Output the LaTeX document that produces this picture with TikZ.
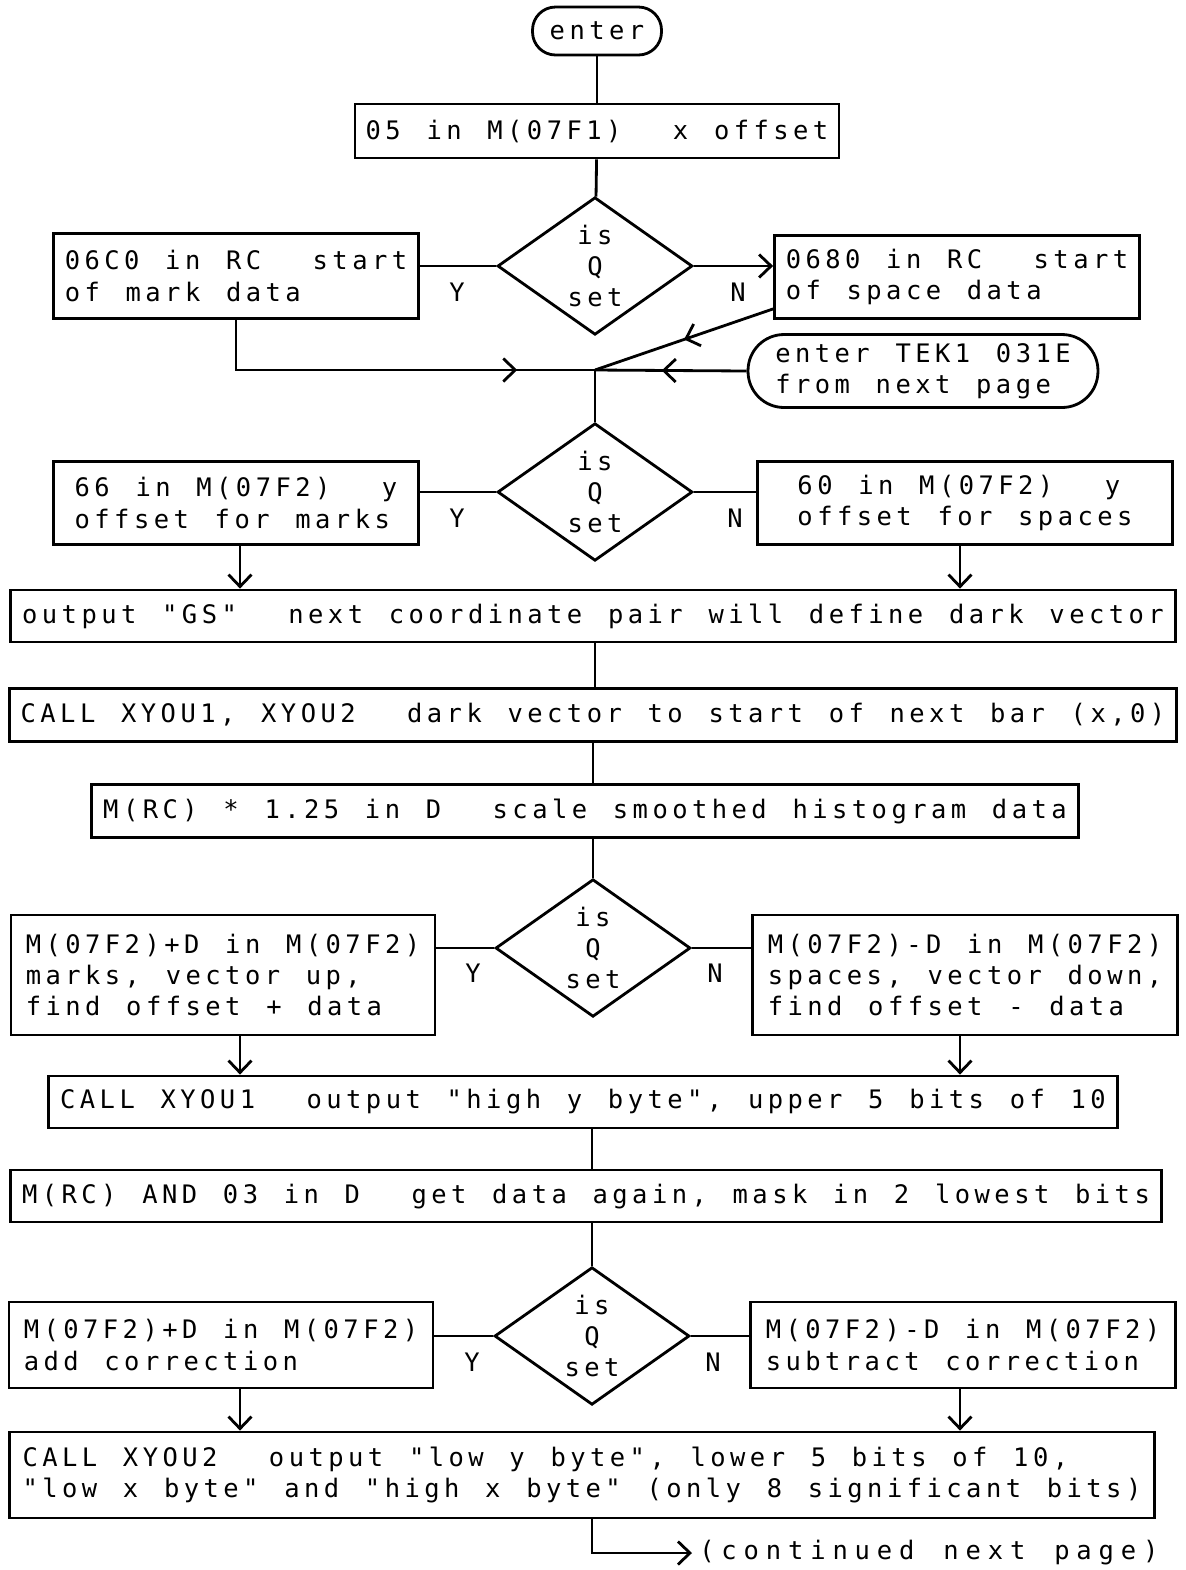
\documentclass[tikz,border=0pt]{standalone}
\usepackage{fontspec}
\usepackage{tikz}
\usetikzlibrary{shapes.geometric,arrows.meta,decorations.markings}
\newfontfamily\flowfont[LetterSpace=17.5,WordSpace=1.3]{DejaVu Sans Mono}

\begin{document}
\begin{tikzpicture}[x=0.02cm,y=-0.02cm,line width=1.6pt,
  >={Straight Barb[length=0.24cm,width=0.46cm]},
  every node/.style={font=\fontsize{14.5}{17.9}\flowfont},
  box/.style={draw,rectangle,inner sep=0pt,align=left},
  term/.style={draw,rectangle,inner sep=0pt,align=left},
  test/.style={draw,diamond,inner sep=0pt,align=center,minimum width=3.9cm,minimum height=2.58cm},
  midarrow/.style={postaction={decorate},decoration={markings,mark=at position #1 with {\arrow{>}}}}]
\useasboundingbox (0,0) rectangle (1186,1570);

\node[term,rounded corners=0.46cm,minimum width=2.58cm,minimum height=0.96cm] (enter) at (597,31) {enter};
\node[box,minimum width=9.68cm,minimum height=1.08cm] (setx) at (597,131) {05 in M(07F1)~ x offset};
\node[test] (q1) at (595,266) {is\\Q\\set};
\node[box,minimum width=7.3cm,minimum height=1.7cm] (mark) at (236,276) {06C0 in RC~ start\\of mark data};
\node[box,minimum width=7.3cm,minimum height=1.66cm] (space) at (957,277) {0680 in RC~ start\\of space data};
\node[term,rounded corners=0.72cm,minimum width=7cm,minimum height=1.46cm] (tek) at (923,371) {enter TEK1 031E\\from next page};
\coordinate (join) at (595,370);
\coordinate (lcol) at (240,0);
\coordinate (rcol) at (960,0);

\node[test] (q2) at (595,492) {is\\Q\\set};
\node[box,minimum width=7.3cm,minimum height=1.66cm] (ymark) at (236,503) {66 in M(07F2)~ y\\offset for marks};
\node[box,minimum width=8.3cm,minimum height=1.66cm] (yspace) at (965,503) {60 in M(07F2)~ y\\offset for spaces};
\node[box,minimum width=23.32cm,minimum height=1.04cm] (gs) at (593,616) {output "GS"~ next coordinate pair will define dark vector};
\node[box,minimum width=23.34cm,minimum height=1.06cm] (dark) at (593,715) {CALL XYOU1, XYOU2~ dark vector to start of next bar (x,0)};
\node[box,minimum width=19.74cm,minimum height=1.06cm] (scale) at (585,811) {M(RC) * 1.25 in D~ scale smoothed histogram data};

\node[test] (q3) at (593,948) {is\\Q\\set};
\node[box,minimum width=8.48cm,minimum height=2.4cm] (up) at (223,975) {M(07F2)+D in M(07F2)\\marks, vector up,\\find offset + data};
\node[box,minimum width=8.5cm,minimum height=2.4cm] (down) at (965,975) {M(07F2)-D in M(07F2)\\spaces, vector down,\\find offset - data};
\node[box,minimum width=21.4cm,minimum height=1.04cm] (high) at (583,1102) {CALL XYOU1~ output "high y byte", upper 5 bits of 10};
\node[box,minimum width=23.04cm,minimum height=1.04cm] (mask) at (586,1196) {M(RC) AND 03 in D~ get data again, mask in 2 lowest bits};

\node[test] (q4) at (592,1336) {is\\Q\\set};
\node[box,minimum width=8.48cm,minimum height=1.72cm] (add) at (221,1345) {M(07F2)+D in M(07F2)\\add correction};
\node[box,minimum width=8.5cm,minimum height=1.72cm] (sub) at (963,1345) {M(07F2)-D in M(07F2)\\subtract correction};
\node[box,minimum width=22.92cm,minimum height=1.72cm] (low) at (582,1475) {CALL XYOU2~ output "low y byte", lower 5 bits of 10,\\"low x byte" and "high x byte" (only 8 significant bits)};
\node[anchor=west,font=\fontsize{14.5}{17.9}\flowfont\addfontfeatures{LetterSpace=27}] (next) at (692,1553) {(continued next page)};

\node (y1) at (457,292) {Y};
\node (n1) at (738,292) {N};
\node (y2) at (457,518) {Y};
\node (n2) at (735,518) {N};
\node (y3) at (473,973) {Y};
\node (n3) at (715,973) {N};
\node (y4) at (472,1362) {Y};
\node (n4) at (713,1362) {N};

\draw (enter) -- (setx);
\draw (setx) -- (q1);
\draw (q1.west) -- (q1.west -| mark.east);
\draw[->] (q1.east) -- (q1.east -| space.west);
\draw[midarrow=0.81] (mark.south) |- (join);
\draw[midarrow=0.5] ([yshift=0.22cm]space.south west) -- (join);
\draw[midarrow=0.56] (tek.west) -- (join);
\draw (join) -- (q2.north);

\draw (q2.west) -- (q2.west -| ymark.east);
\draw (q2.east) -- (q2.east -| yspace.west);
\draw[->] (lcol |- ymark.south) -- (lcol |- gs.north);
\draw[->] (rcol |- yspace.south) -- (rcol |- gs.north);
\draw (q2.south |- gs.south) -- (q2.south |- dark.north);
\draw (q3.north |- dark.south) -- (q3.north |- scale.north);
\draw (q3.north |- scale.south) -- (q3.north);

\draw (q3.west) -- (q3.west -| up.east);
\draw (q3.east) -- (q3.east -| down.west);
\draw[->] (lcol |- up.south) -- (lcol |- high.north);
\draw[->] (rcol |- down.south) -- (rcol |- high.north);
\draw (q4.north |- high.south) -- (q4.north |- mask.north);
\draw (q4.north |- mask.south) -- (q4.north);

\draw (q4.west) -- (q4.west -| add.east);
\draw (q4.east) -- (q4.east -| sub.west);
\draw[->] (lcol |- add.south) -- (lcol |- low.north);
\draw[->] (rcol |- sub.south) -- (rcol |- low.north);
\draw[->] (q4.south |- low.south) |- (next.west);
\end{tikzpicture}
\end{document}
